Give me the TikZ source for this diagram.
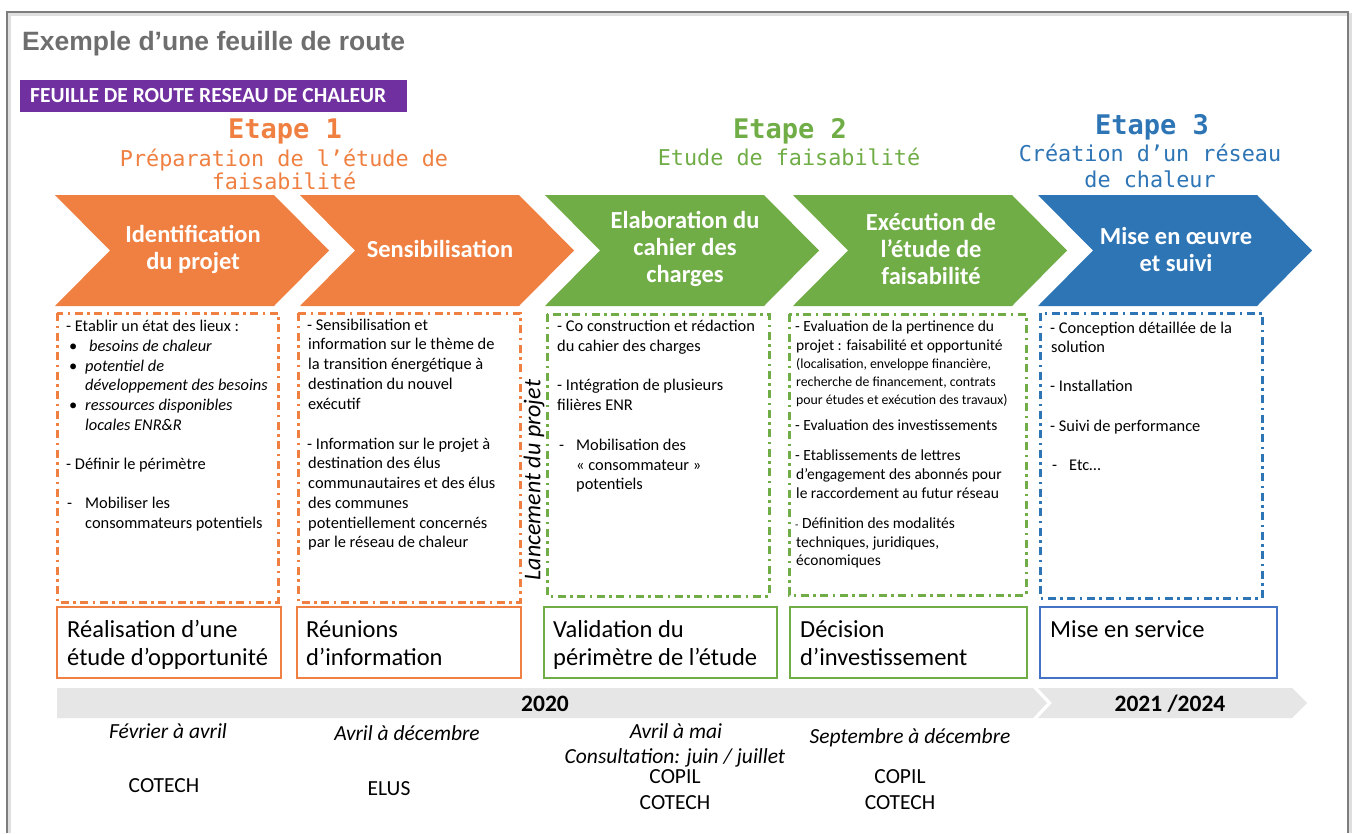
\documentclass[tikz,border=0pt]{standalone}
\usepackage{fontspec}
\setmainfont{Carlito}
\newfontfamily\monof{DejaVu Sans Mono}
\newfontfamily\arialf{Liberation Sans}
\definecolor{corange}{RGB}{239,128,65}
\definecolor{cgreen}{RGB}{112,173,71}
\definecolor{cblue}{RGB}{46,117,182}
\definecolor{cblueb}{RGB}{68,114,196}
\definecolor{cpurple}{RGB}{112,48,160}
\definecolor{cbar}{RGB}{231,230,230}
\definecolor{ctitle}{RGB}{110,110,110}
\definecolor{cframe}{RGB}{125,125,125}
\begin{document}
\begin{tikzpicture}[x=1pt,y=-1pt,
  txt/.style={inner sep=0pt, anchor=base west, font=\fontsize{16.4}{19.7}\selectfont},
  smalltxt/.style={inner sep=0pt, anchor=base west, font=\fontsize{15.5}{19}\selectfont},
  tinytxt/.style={inner sep=0pt, anchor=base west, font=\fontsize{13.8}{17}\selectfont},
  chevtxt/.style={inner sep=0pt, align=center, text=white, font=\fontsize{24.5}{27}\selectfont\bfseries},
  etape/.style={inner sep=0pt, anchor=base, font=\fontsize{27}{30}\selectfont\monof\bfseries},
  etapesub/.style={inner sep=0pt, anchor=base, font=\fontsize{21.8}{25}\selectfont\monof},
  ddbox/.style={line width=3pt, dash pattern=on 8pt off 4.5pt on 2.5pt off 4.5pt},
  resbox/.style={line width=2.5pt},
  restxt/.style={inner sep=0pt, anchor=base west, font=\fontsize{24.5}{28}\selectfont},
  datetxt/.style={inner sep=0pt, anchor=base, font=\fontsize{21.5}{24}\selectfont\itshape},
  comtxt/.style={inner sep=0pt, anchor=base, font=\fontsize{21.5}{24}\selectfont},
  yeartxt/.style={inner sep=0pt, anchor=base, font=\fontsize{23.5}{26}\selectfont\bfseries}
]
\useasboundingbox (0,0) rectangle (1355,833);
\fill[white] (0,0) rectangle (1355,833);
% frame
\draw[gray!25, line width=3pt] (9,833) -- (9,14) -- (1350,14) -- (1350,833);
\draw[cframe, line width=1.4pt] (7,833) -- (7,12) -- (1348,12) -- (1348,833);

% title
\node[inner sep=0pt, anchor=base west, text=ctitle, font=\fontsize{26.5}{28}\selectfont\arialf\bfseries] (title) at (22,50) {Exemple d’une feuille de route};
\fill[cpurple] (20,80) rectangle (407,112);
\node[inner sep=0pt, anchor=base west, text=white, font=\fontsize{21.5}{24}\selectfont\bfseries] (banner) at (30,102.5) {FEUILLE DE ROUTE RESEAU DE CHALEUR};

% etapes
\node[etape, text=corange] (e1) at (285,138) {Etape 1};
\node[etapesub, text=corange] (e1a) at (284,166) {Préparation de l’étude de};
\node[etapesub, text=corange] (e1b) at (284,189) {faisabilité};
\node[etape, text=cgreen] (e2) at (790,138) {Etape 2};
\node[etapesub, text=cgreen] (e2a) at (789,165) {Etude de faisabilité};
\node[etape, text=cblue] (e3) at (1152,134) {Etape 3};
\node[etapesub, text=cblue] (e3a) at (1150,161.5) {Création d’un réseau};
\node[etapesub, text=cblue] (e3b) at (1150,187) {de chaleur};

% chevrons
\foreach \L/\c in {55/corange,300/corange,545/cgreen,793/cgreen,1038/cblue}{
  \fill[\c] (\L,195) -- ++(219,0) -- ++(55,55.5) -- ++(-55,55.5) -- ++(-219,0) -- ++(55,-55.5) -- cycle;
}
\node[chevtxt] (c1) at (193,249.5) {Identification\\du projet};
\node[chevtxt] (c2) at (440,249) {Sensibilisation};
\node[chevtxt] (c3) at (685,249) {Elaboration du\\cahier des\\charges};
\node[chevtxt] (c4) at (931,249) {Exécution de\\l’étude de\\faisabilité};
\node[chevtxt] (c5) at (1176,249.5) {Mise en œuvre\\et suivi};

% dashed boxes
\draw[ddbox, corange] (57,313) rectangle (278,602);
\draw[ddbox, corange] (298,313) rectangle (520,602);
\draw[ddbox, cgreen] (547,314) rectangle (769,596);
\draw[ddbox, cgreen] (789,314) rectangle (1026,595);
\draw[ddbox, cblue] (1040,313) rectangle (1262,598);

% box 1 text
\foreach \xx/\yy/\tx [count=\i] in {
  66/331.5/{- Etablir un état des lieux :},
  69/351/{•}, 89/351/{\itshape besoins de chaleur},
  69/371/{•}, 85/371/{\itshape potentiel de},
  85/390.5/{\itshape développement des besoins},
  69/410/{•}, 85/410/{\itshape ressources disponibles},
  85/430/{\itshape locales ENR\&R},
  66/469/{- Définir le périmètre},
  67/508/{-}, 85/508/{Mobiliser les},
  85/528/{consommateurs potentiels}}
  \node[txt] (ta\i) at (\xx,\yy) {\tx};

% box 2 text
\foreach \xx/\yy/\tx [count=\i] in {
  307/330/{- Sensibilisation et},
  308/349.5/{information sur le thème de},
  308/369/{la transition énergétique à},
  308/389/{destination du nouvel},
  308/409/{exécutif},
  307/449/{- Information sur le projet à},
  308/468/{destination des élus},
  308/488/{communautaires et des élus},
  308/508/{des communes},
  308/528/{potentiellement concernés},
  308/547/{par le réseau de chaleur}}
  \node[txt] (tb\i) at (\xx,\yy) {\tx};

% box 3 text
\foreach \xx/\yy/\tx [count=\i] in {
  557/331.5/{- Co construction et rédaction},
  557/351/{du cahier des charges},
  557/390.5/{- Intégration de plusieurs},
  557/410/{filières ENR},
  559/450.5/{-}, 576/450.5/{Mobilisation des},
  576/470/{« consommateur »},
  576/489/{potentiels}}
  \node[txt] (tc\i) at (\xx,\yy) {\tx};

% box 4 text
\foreach \xx/\yy/\tx [count=\i] in {
  795/331/{- Evaluation de la pertinence du},
  796/350/{projet : faisabilité et opportunité},
  795/430/{- Evaluation des investissements},
  795/460/{- Etablissements de lettres},
  796/479/{d’engagement des abonnés pour},
  796/498/{le raccordement au futur réseau},
  795/528/{{\fontsize{11}{12}\selectfont-} Définition des modalités},
  796/547/{techniques, juridiques,},
  796/565/{économiques}}
  \node[smalltxt] (td\i) at (\xx,\yy) {\tx};
\foreach \xx/\yy/\tx [count=\i] in {
  796/368.5/{(localisation, enveloppe financière,},
  796/386.5/{recherche de financement, contrats},
  796/404/{pour études et exécution des travaux)}}
  \node[tinytxt] (tds\i) at (\xx,\yy) {\tx};

% box 5 text
\foreach \xx/\yy/\tx [count=\i] in {
  1050/333/{- Conception détaillée de la},
  1051/352.5/{solution},
  1050/391.5/{- Installation},
  1050/431.5/{- Suivi de performance},
  1052/470.5/{-}, 1069/470.5/{Etc…}}
  \node[txt] (te\i) at (\xx,\yy) {\tx};

% lancement du projet
\node[inner sep=0pt, rotate=90, font=\fontsize{24}{26}\selectfont\itshape] (lanc) at (534,480) {Lancement du projet};

% result boxes
\draw[resbox, corange] (57,607) rectangle (281,678);
\draw[resbox, corange] (297,607) rectangle (521,678);
\draw[resbox, cgreen] (544,607) rectangle (777,678);
\draw[resbox, cgreen] (790,607) rectangle (1027,678);
\draw[resbox, cblueb] (1040,607) rectangle (1277,678);
\node[restxt] (r1a) at (67,637) {Réalisation d’une};
\node[restxt] (r1b) at (67,665) {étude d’opportunité};
\node[restxt] (r2a) at (306,637) {Réunions};
\node[restxt] (r2b) at (306,665) {d’information};
\node[restxt] (r3a) at (553,637) {Validation du};
\node[restxt] (r3b) at (553,665) {périmètre de l’étude};
\node[restxt] (r4a) at (800,637) {Décision};
\node[restxt] (r4b) at (800,665) {d’investissement};
\node[restxt] (r5a) at (1050,637) {Mise en service};

% timeline
\fill[cbar] (57,688) -- (1033,688) -- (1047,703) -- (1033,718) -- (57,718) -- cycle;
\fill[cbar] (1038,688) -- (1292,688) -- (1307,703) -- (1292,718) -- (1038,718) -- (1052,703) -- cycle;
\node[yeartxt] (y1) at (545,711) {2020};
\node[yeartxt] (y2) at (1170,711) {2021 /2024};

% dates
\node[datetxt] (d1) at (168,738) {Février à avril};
\node[datetxt] (d2) at (407,740) {Avril à décembre};
\node[datetxt] (d3) at (676,738) {Avril à mai};
\node[datetxt] (d3b) at (675,763) {Consultation: juin / juillet};
\node[datetxt] (d4) at (910,743) {Septembre à décembre};
\node[comtxt] (m1) at (164,792) {COTECH};
\node[comtxt] (m2) at (389,795) {ELUS};
\node[comtxt] (m3a) at (675,783) {COPIL};
\node[comtxt] (m3b) at (675,809) {COTECH};
\node[comtxt] (m4a) at (900,783) {COPIL};
\node[comtxt] (m4b) at (900,809) {COTECH};
\end{tikzpicture}
\end{document}
